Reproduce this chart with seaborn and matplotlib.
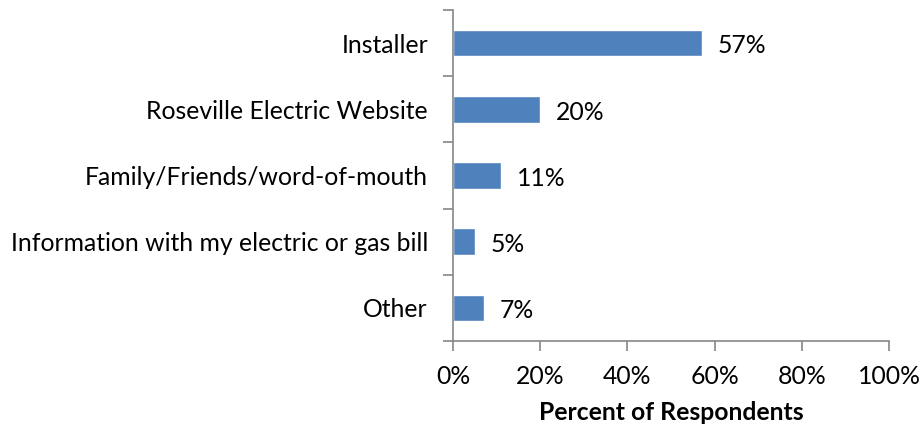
import matplotlib
matplotlib.use("Agg")
import matplotlib.pyplot as plt
import seaborn as sns
import pandas as pd
import numpy as np
from matplotlib.ticker import FixedLocator, PercentFormatter

sources = [
    "Installer",
    "Roseville Electric Website",
    "Family/Friends/word-of-mouth",
    "Information with my electric or gas bill",
    "Other",
]
percents = [57, 20, 11, 5, 7]
x_ticks = [0, 20, 40, 60, 80, 100]
x_label = "Percent of Respondents"

df = pd.DataFrame({"source": sources, "percent": percents})

sns.set_theme(style="white")
plt.rcParams["font.family"] = ["Lato", "DejaVu Sans"]

FS = 17.8

fig = plt.figure(figsize=(9.23, 4.30), dpi=100)
ax = fig.add_axes([453 / 923, 1 - 341 / 430, (889 - 453) / 923, (341 - 10) / 430])

sns.barplot(data=df, x="percent", y="source", orient="h", color="#4F81BD",
            saturation=1, width=0.4, ax=ax)

ax.set_xlim(0, 100)
ax.set_ylim(len(sources) - 0.5, -0.5)
ax.xaxis.set_major_locator(FixedLocator(x_ticks))
ax.xaxis.set_major_formatter(PercentFormatter(decimals=0))

# Category boundaries carry the tick marks; labels sit between them
ax.set_yticks(np.arange(len(sources)))
ax.set_yticklabels(sources)
ax.set_yticks(np.arange(-0.5, len(sources), 1.0), minor=True)
ax.tick_params(axis="y", which="major", length=0, pad=18, labelsize=FS, labelcolor="black")
ax.tick_params(axis="y", which="minor", length=7, width=1.2, color="#868686", left=True)
ax.tick_params(axis="x", which="major", length=7, width=1.2, color="#868686",
               bottom=True, pad=10, labelsize=FS, labelcolor="black")

for side in ("top", "right"):
    ax.spines[side].set_visible(False)
for side in ("left", "bottom"):
    ax.spines[side].set_color("#868686")
    ax.spines[side].set_linewidth(1.2)

ax.set_ylabel("")
ax.set_xlabel(x_label, fontsize=FS, fontweight="bold", labelpad=10, color="black")

for i, v in enumerate(percents):
    ax.annotate(f"{v}%", xy=(v, i), xytext=(11.5, -2), textcoords="offset points",
                va="center", ha="left", fontsize=FS, color="black")

fig.savefig("out.png", dpi=100)
